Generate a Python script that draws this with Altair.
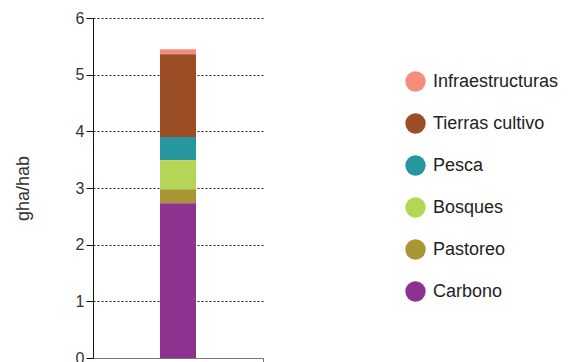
import altair as alt
import pandas as pd

categorias = ["Infraestructuras", "Tierras cultivo", "Pesca", "Bosques", "Pastoreo", "Carbono"]
valores = [0.09, 1.46, 0.41, 0.51, 0.25, 2.73]
colores = ["#F68D7A", "#9B4D26", "#28969E", "#B5D557", "#AA9535", "#8D338F"]
grupo = "Total"

df = pd.DataFrame({
    "categoria": categorias,
    "valor": valores,
    "orden": list(range(len(categorias))),
    "grupo": [grupo] * len(categorias),
})

FONT = "Liberation Sans"

chart = alt.Chart(df).mark_bar(size=36).encode(
    x=alt.X("grupo:N",
            scale=alt.Scale(paddingInner=0, paddingOuter=0),
            axis=alt.Axis(labels=False, title=None, grid=False, bandPosition=1,
                          domainColor="#777777", tickColor="#777777", tickSize=6)),
    y=alt.Y("valor:Q", stack="zero",
            scale=alt.Scale(domain=[0, 6], nice=False),
            axis=alt.Axis(title="gha/hab", values=[0, 1, 2, 3, 4, 5, 6], format="d",
                          grid=True, gridColor="#222222", gridDash=[2, 2], gridWidth=1,
                          domainColor="#111111", tickColor="#111111", tickSize=7,
                          labelFontSize=16, labelColor="#333333", labelPadding=2, labelFont=FONT,
                          titleFontSize=18, titleFontWeight="normal", titleColor="#333333",
                          titleFont=FONT, titlePadding=43)),
    color=alt.Color("categoria:N",
                    scale=alt.Scale(domain=categorias, range=colores),
                    legend=alt.Legend(title=None, orient="none", legendX=312, legendY=53,
                                      symbolType="circle", symbolSize=415, symbolStrokeWidth=0,
                                      labelFontSize=18, labelFont=FONT, labelColor="#222222",
                                      labelOffset=7, rowPadding=21, labelLimit=300)),
    order=alt.Order("orden:Q", sort="descending"),
).properties(
    width=170,
    height=340,
    padding={"left": 85, "top": 10, "right": 304, "bottom": 20},
    autosize=alt.AutoSizeParams(type="none"),
).configure(font=FONT).configure_view(strokeWidth=0, stroke="transparent")

chart.save("out.html", embed_options={"renderer": "svg", "actions": False})
